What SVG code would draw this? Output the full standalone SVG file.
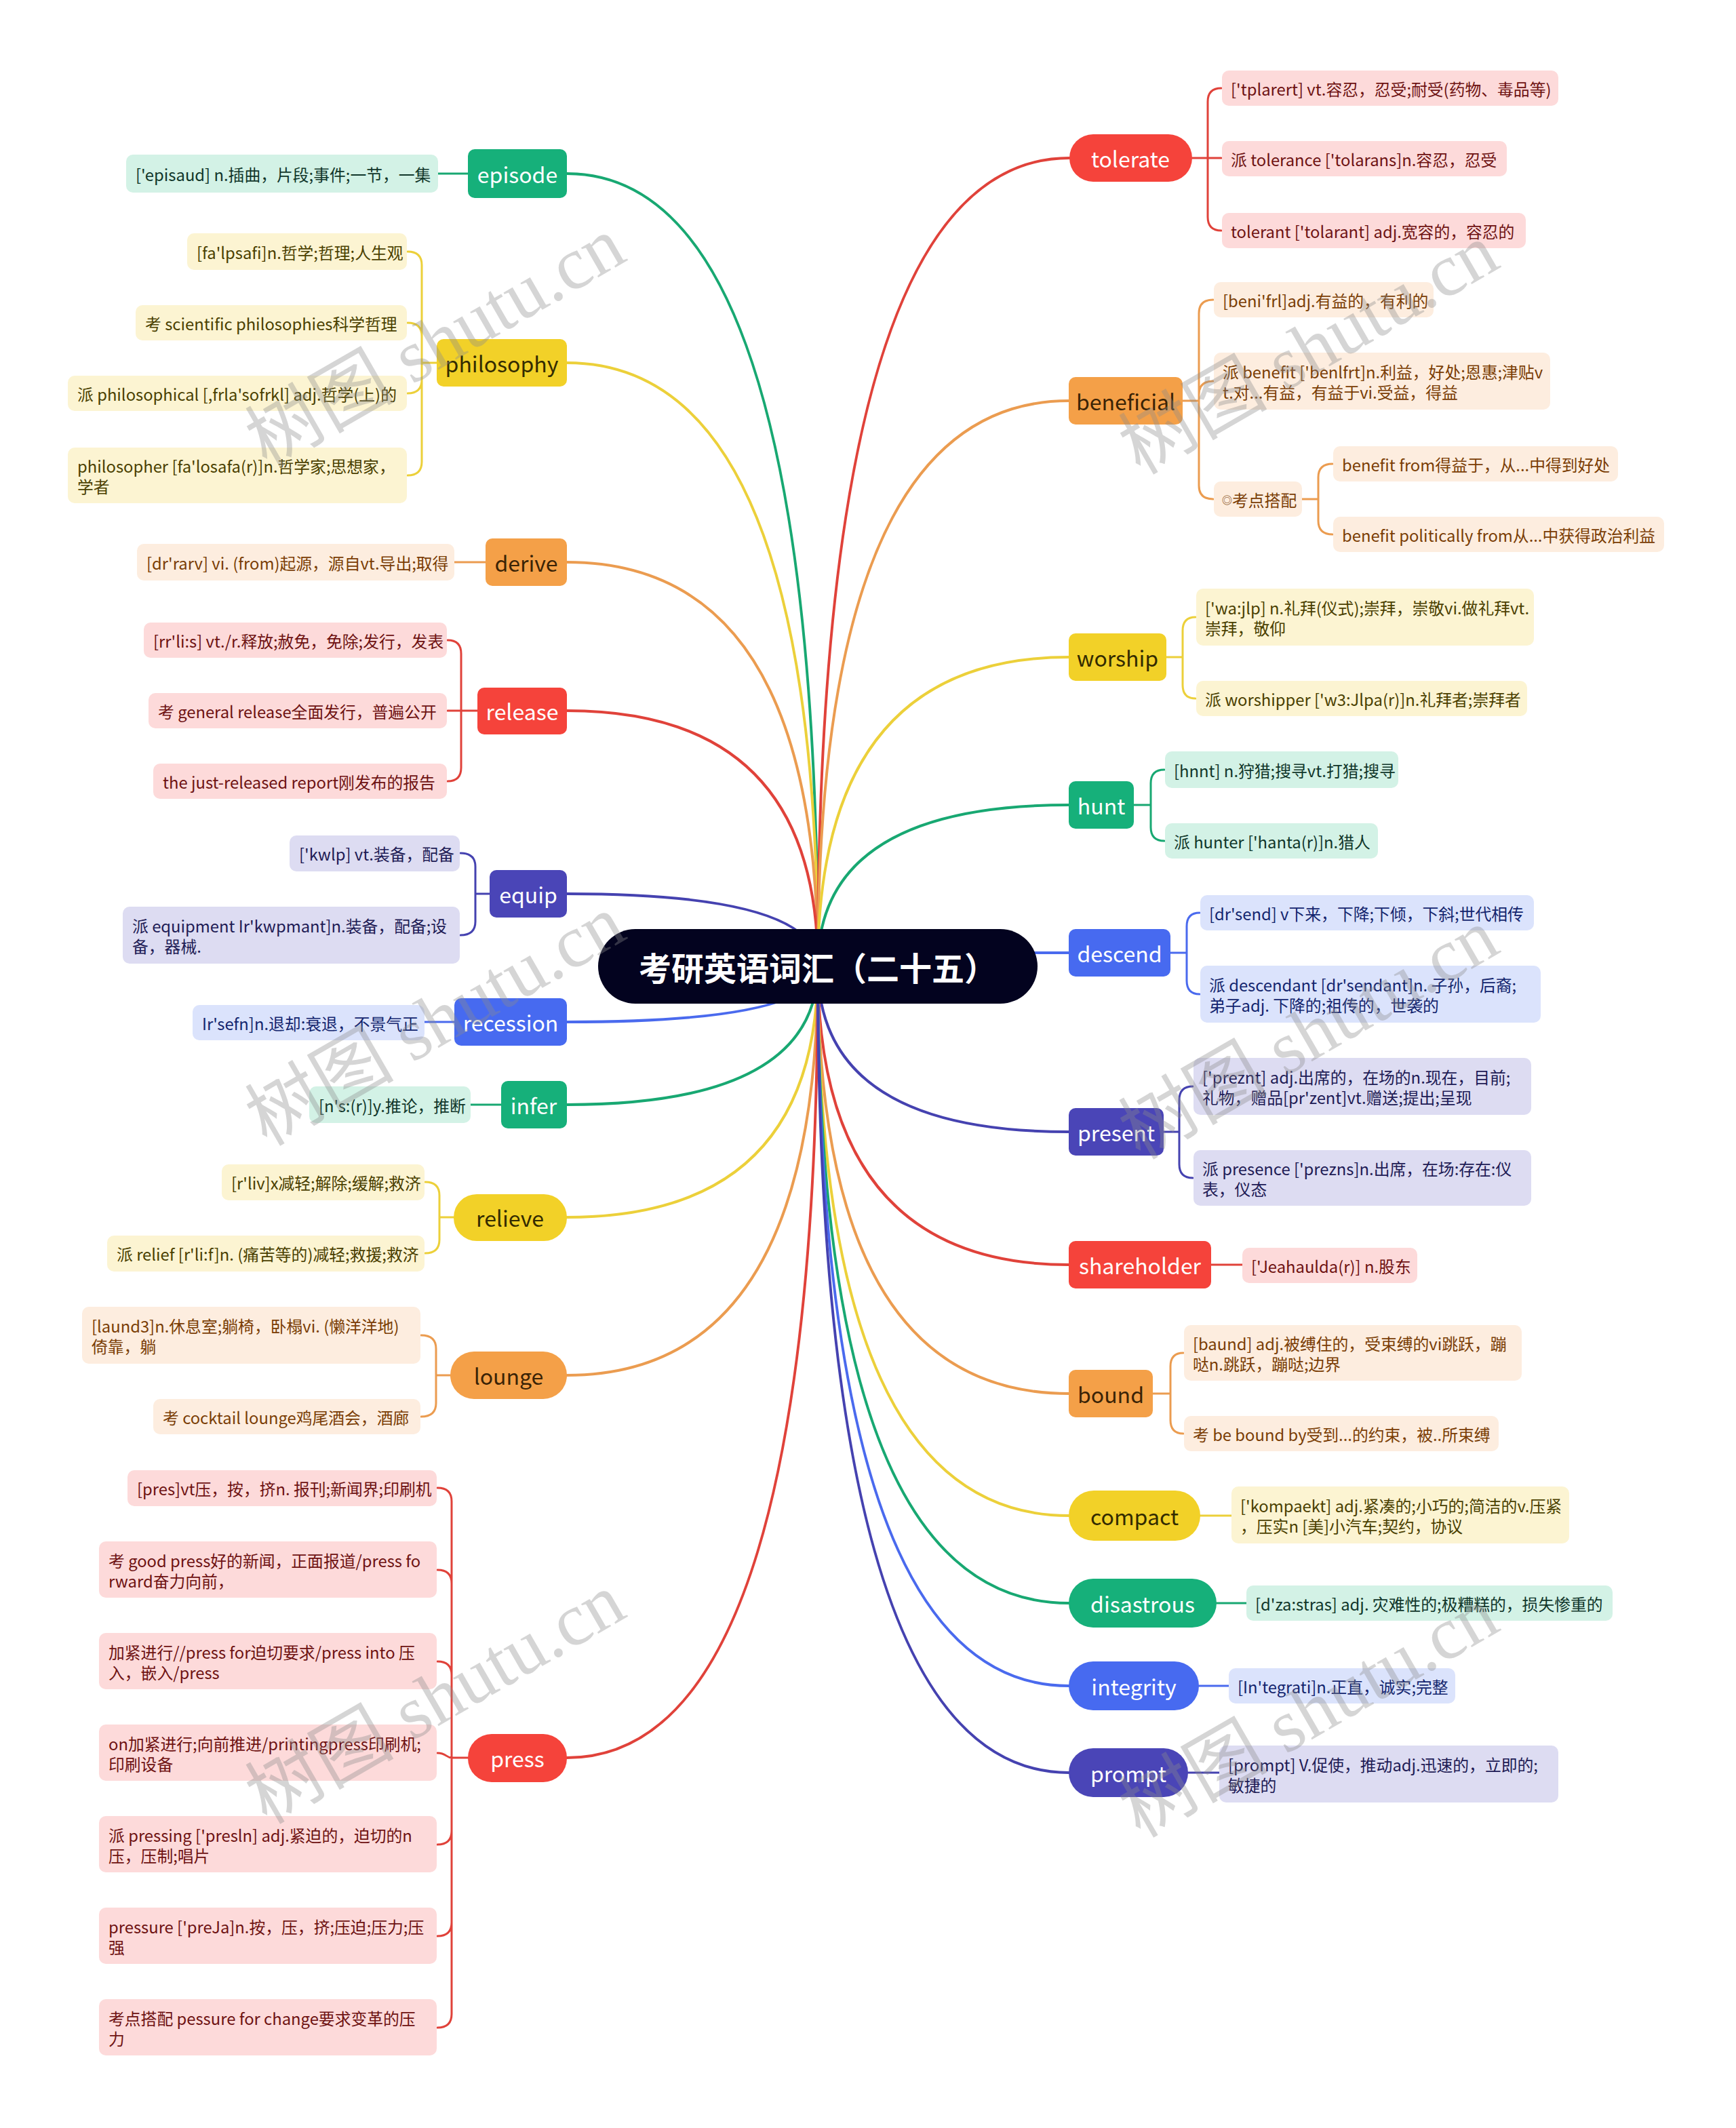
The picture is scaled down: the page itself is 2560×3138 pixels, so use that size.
<svg xmlns="http://www.w3.org/2000/svg" width="2560" height="3138" viewBox="0 0 2560 3138">
<style>
text{font-family:"Noto Sans CJK SC","Noto Sans",sans-serif;dominant-baseline:central}
.lt{font-size:23.8px}
.mt{font-size:32px;text-anchor:middle}
.wt{fill:#ffffff}
.c{fill:none;stroke-width:4;stroke-linecap:round}
.s{fill:none;stroke-width:3;stroke-linecap:round}
.Ngr{fill:#16b07a}.Lgr{fill:#d3f2e6}.Tgr{fill:#10362a}.Sgr{stroke:#18a872}
.Nye{fill:#f2d128}.Lye{fill:#fcf4d2}.Tye{fill:#4a4000}.Sye{stroke:#ecd03a}.Dye{fill:#332b00}
.Nor{fill:#f4a048}.Lor{fill:#fdeddf}.Tor{fill:#7a3d05}.Sor{stroke:#eb9c50}.Dor{fill:#3a2306}
.Nrd{fill:#f5433b}.Lrd{fill:#fddada}.Trd{fill:#6e1212}.Srd{stroke:#e0423a}
.Nin{fill:#4a45b7}.Lin{fill:#dddcf2}.Tin{fill:#1e1b55}.Sin{stroke:#4542b0}
.Nbl{fill:#476af0}.Lbl{fill:#dbe3fc}.Tbl{fill:#13256e}.Sbl{stroke:#4a6aee}
.wm{font-family:"Liberation Serif","Noto Sans CJK SC",serif;font-size:110px;fill:#8c8c8c;opacity:0.36;text-anchor:middle}
</style>
<rect width="2560" height="3138" fill="#ffffff"/>

<g id="connectors">
<path class="c Sgr" d="M836,256 Q1206,256 1206,1425"/>
<path class="c Sye" d="M836,535 Q1206,535 1206,1425"/>
<path class="c Sor" d="M836,829 Q1206,829 1206,1425"/>
<path class="c Srd" d="M836,1048 Q1206,1048 1206,1425"/>
<path class="c Sin" d="M836,1318 Q1206,1318 1206,1425"/>
<path class="c Sbl" d="M836,1507 Q1206,1507 1206,1425"/>
<path class="c Sgr" d="M836,1629 Q1206,1629 1206,1425"/>
<path class="c Sye" d="M836,1795 Q1206,1795 1206,1425"/>
<path class="c Sor" d="M836,2028 Q1206,2028 1206,1425"/>
<path class="c Srd" d="M836,2592 Q1206,2592 1206,1425"/>
<path class="c Srd" d="M1577,233 Q1206,233 1206,1425"/>
<path class="c Sor" d="M1576,591 Q1206,591 1206,1425"/>
<path class="c Sye" d="M1576,969 Q1206,969 1206,1425"/>
<path class="c Sgr" d="M1576,1187 Q1206,1187 1206,1425"/>
<path class="c Sbl" d="M1576,1405 Q1206,1405 1206,1425"/>
<path class="c Sin" d="M1576,1669 Q1206,1669 1206,1425"/>
<path class="c Srd" d="M1576,1865 Q1206,1865 1206,1425"/>
<path class="c Sor" d="M1576,2055 Q1206,2055 1206,1425"/>
<path class="c Sye" d="M1576,2235 Q1206,2235 1206,1425"/>
<path class="c Sgr" d="M1576,2364 Q1206,2364 1206,1425"/>
<path class="c Sbl" d="M1576,2486 Q1206,2486 1206,1425"/>
<path class="c Sin" d="M1576,2614 Q1206,2614 1206,1425"/>

<path class="s Sgr" d="M646,256 H690"/>
<path class="s Sye" d="M644,535 H622 M622,535 V391 Q622,371 601,371 M622,535 V496 Q622,476 601,476 M622,535 V560 Q622,580 601,580 M622,535 V681 Q622,701 601,701"/>
<path class="s Sor" d="M670,829 H716"/>
<path class="s Srd" d="M704,1048 H660 M680,1048 V964 Q680,944 660,944 M680,1048 V1132 Q680,1152 660,1152"/>
<path class="s Sin" d="M722,1318 H701 M701,1318 V1278 Q701,1258 679,1258 M701,1318 V1359 Q701,1379 679,1379"/>
<path class="s Sbl" d="M626,1507 H670"/>
<path class="s Sgr" d="M694,1629 H739"/>
<path class="s Sye" d="M669,1795 H648 M648,1795 V1763 Q648,1743 627,1743 M648,1795 V1828 Q648,1848 627,1848"/>
<path class="s Sor" d="M664,2028 H643 M643,2028 V1989 Q643,1969 621,1969 M643,2028 V2069 Q643,2089 621,2089"/>
<path class="s Srd" d="M690,2592 H666 M666,2592 V2214 Q666,2194 645,2194 M666,2592 V2335 Q666,2315 645,2315 M666,2592 V2470 Q666,2450 645,2450 M666,2592 C658,2592 658,2585 645,2585 M666,2592 V2700 Q666,2720 645,2720 M666,2592 V2835 Q666,2855 645,2855 M666,2592 V2970 Q666,2990 645,2990"/>
<path class="s Srd" d="M1758,233 H1801 M1781,233 V150 Q1781,130 1801,130 M1781,233 V320 Q1781,340 1801,340"/>
<path class="s Sor" d="M1744,591 H1768 M1768,591 V462 Q1768,442 1789,442 M1768,591 V582 Q1768,562 1789,562 M1768,591 V716 Q1768,736 1789,736"/>
<path class="s Sor" d="M1920,736 H1944 M1944,736 V704 Q1944,684 1965,684 M1944,736 V768 Q1944,788 1965,788"/>
<path class="s Sye" d="M1720,969 H1744 M1744,969 V930 Q1744,910 1763,910 M1744,969 V1010 Q1744,1030 1763,1030"/>
<path class="s Sgr" d="M1672,1187 H1697 M1697,1187 V1155 Q1697,1135 1717,1135 M1697,1187 V1220 Q1697,1240 1717,1240"/>
<path class="s Sbl" d="M1726,1405 H1750 M1750,1405 V1366 Q1750,1346 1769,1346 M1750,1405 V1446 Q1750,1466 1769,1466"/>
<path class="s Sin" d="M1716,1669 H1739 M1739,1669 V1622 Q1739,1602 1759,1602 M1739,1669 V1717 Q1739,1737 1759,1737"/>
<path class="s Srd" d="M1786,1865 H1832"/>
<path class="s Sor" d="M1700,2055 H1726 M1726,2055 V2015 Q1726,1995 1745,1995 M1726,2055 V2094 Q1726,2114 1745,2114"/>
<path class="s Sye" d="M1770,2235 H1816"/>
<path class="s Sgr" d="M1794,2364 H1838"/>
<path class="s Sbl" d="M1768,2486 H1812"/>
<path class="s Sin" d="M1752,2614 H1798"/>
</g>

<g id="episode">
<rect class="Ngr" x="690" y="220" width="146" height="72" rx="10"/>
<text class="mt wt" x="763" y="256">episode</text>
</g>
<g id="episode-1">
<rect class="Lgr" x="186" y="228" width="460" height="56" rx="10"/>
<text class="lt Tgr" x="200" y="256">['episaud] n.插曲，片段;事件;一节，一集</text>
</g>

<g id="philosophy">
<rect class="Nye" x="644" y="500" width="192" height="70" rx="10"/>
<text class="mt Dye" x="740" y="535">philosophy</text>
</g>
<g id="philosophy-1"><rect class="Lye" x="276" y="344" width="324" height="54" rx="10"/><text class="lt Tye" x="290" y="371">[fa'lpsafi]n.哲学;哲理;人生观</text></g>
<g id="philosophy-2"><rect class="Lye" x="200" y="450" width="400" height="52" rx="10"/><text class="lt Tye" x="214" y="476">考 scientific philosophies科学哲理</text></g>
<g id="philosophy-3"><rect class="Lye" x="100" y="554" width="500" height="52" rx="10"/><text class="lt Tye" x="114" y="580">派 philosophical [,frla'sofrkl] adj.哲学(上)的</text></g>
<g id="philosophy-4"><rect class="Lye" x="100" y="660" width="500" height="82" rx="10"/><text class="lt Tye" x="114" y="686">philosopher [fa'losafa(r)]n.哲学家;思想家，</text><text class="lt Tye" x="114" y="716">学者</text></g>

<g id="derive">
<rect class="Nor" x="716" y="794" width="120" height="70" rx="10"/>
<text class="mt Dor" x="776" y="829">derive</text>
</g>
<g id="derive-1"><rect class="Lor" x="202" y="802" width="468" height="54" rx="10"/><text class="lt Tor" x="216" y="829">[dr'rarv] vi. (from)起源，源自vt.导出;取得</text></g>

<g id="release">
<rect class="Nrd" x="704" y="1014" width="132" height="69" rx="10"/>
<text class="mt wt" x="770" y="1048">release</text>
</g>
<g id="release-1"><rect class="Lrd" x="212" y="918" width="447" height="52" rx="10"/><text class="lt Trd" x="226" y="944">[rr'li:s] vt./r.释放;赦免，免除;发行，发表</text></g>
<g id="release-2"><rect class="Lrd" x="219" y="1022" width="440" height="52" rx="10"/><text class="lt Trd" x="233" y="1048">考 general release全面发行，普遍公开</text></g>
<g id="release-3"><rect class="Lrd" x="226" y="1126" width="433" height="52" rx="10"/><text class="lt Trd" x="240" y="1152">the just-released report刚发布的报告</text></g>

<g id="equip">
<rect class="Nin" x="722" y="1283" width="114" height="70" rx="10"/>
<text class="mt wt" x="779" y="1318">equip</text>
</g>
<g id="equip-1"><rect class="Lin" x="427" y="1232" width="251" height="53" rx="10"/><text class="lt Tin" x="441" y="1258">['kwlp] vt.装备，配备</text></g>
<g id="equip-2"><rect class="Lin" x="181" y="1337" width="497" height="84" rx="10"/><text class="lt Tin" x="195" y="1364">派 equipment Ir'kwpmant]n.装备，配备;设</text><text class="lt Tin" x="195" y="1394">备，器械.</text></g>

<g id="recession">
<rect class="Nbl" x="670" y="1472" width="166" height="70" rx="10"/>
<text class="mt wt" x="753" y="1507">recession</text>
</g>
<g id="recession-1"><rect class="Lbl" x="284" y="1482" width="342" height="52" rx="10"/><text class="lt Tbl" x="298" y="1508">Ir'sefn]n.退却:衰退，不景气正</text></g>

<g id="infer">
<rect class="Ngr" x="739" y="1594" width="97" height="70" rx="10"/>
<text class="mt wt" x="787" y="1629">infer</text>
</g>
<g id="infer-1"><rect class="Lgr" x="456" y="1602" width="238" height="54" rx="10"/><text class="lt Tgr" x="470" y="1629">[n's:(r)]y.推论，推断</text></g>

<g id="relieve">
<rect class="Nye" x="669" y="1761" width="167" height="69" rx="34"/>
<text class="mt Dye" x="752" y="1795">relieve</text>
</g>
<g id="relieve-1"><rect class="Lye" x="327" y="1717" width="299" height="53" rx="10"/><text class="lt Tye" x="341" y="1743">[r'liv]x减轻;解除;缓解;救济</text></g>
<g id="relieve-2"><rect class="Lye" x="158" y="1822" width="468" height="53" rx="10"/><text class="lt Tye" x="172" y="1848">派 relief [r'li:f]n. (痛苦等的)减轻;救援;救济</text></g>

<g id="lounge">
<rect class="Nor" x="664" y="1993" width="172" height="70" rx="35"/>
<text class="mt Dor" x="750" y="2028">lounge</text>
</g>
<g id="lounge-1"><rect class="Lor" x="121" y="1927" width="499" height="84" rx="10"/><text class="lt Tor" x="135" y="1954">[laund3]n.休息室;躺椅，卧榻vi. (懒洋洋地)</text><text class="lt Tor" x="135" y="1984">倚靠，躺</text></g>
<g id="lounge-2"><rect class="Lor" x="226" y="2063" width="394" height="52" rx="10"/><text class="lt Tor" x="240" y="2089">考 cocktail lounge鸡尾酒会，酒廊</text></g>

<g id="press">
<rect class="Nrd" x="690" y="2557" width="146" height="71" rx="35"/>
<text class="mt wt" x="763" y="2592">press</text>
</g>
<g id="press-1"><rect class="Lrd" x="188" y="2168" width="456" height="53" rx="10"/><text class="lt Trd" x="202" y="2194">[pres]vt压，按，挤n. 报刊;新闻界;印刷机</text></g>
<g id="press-2"><rect class="Lrd" x="146" y="2273" width="498" height="83" rx="10"/><text class="lt Trd" x="160" y="2300">考 good press好的新闻，正面报道/press fo</text><text class="lt Trd" x="160" y="2330">rward奋力向前，</text></g>
<g id="press-3"><rect class="Lrd" x="146" y="2408" width="498" height="83" rx="10"/><text class="lt Trd" x="160" y="2435">加紧进行//press for迫切要求/press into 压</text><text class="lt Trd" x="160" y="2465">入，嵌入/press</text></g>
<g id="press-4"><rect class="Lrd" x="146" y="2543" width="498" height="83" rx="10"/><text class="lt Trd" x="160" y="2570">on加紧进行;向前推进/printingpress印刷机;</text><text class="lt Trd" x="160" y="2600">印刷设备</text></g>
<g id="press-5"><rect class="Lrd" x="146" y="2678" width="498" height="83" rx="10"/><text class="lt Trd" x="160" y="2705">派 pressing ['presln] adj.紧迫的，迫切的n</text><text class="lt Trd" x="160" y="2735">压，压制;唱片</text></g>
<g id="press-6"><rect class="Lrd" x="146" y="2813" width="498" height="83" rx="10"/><text class="lt Trd" x="160" y="2840">pressure ['preJa]n.按，压，挤;压迫;压力;压</text><text class="lt Trd" x="160" y="2870">强</text></g>
<g id="press-7"><rect class="Lrd" x="146" y="2948" width="498" height="83" rx="10"/><text class="lt Trd" x="160" y="2975">考点搭配 pessure for change要求变革的压</text><text class="lt Trd" x="160" y="3005">力</text></g>

<g id="tolerate">
<rect class="Nrd" x="1577" y="198" width="181" height="70" rx="35"/>
<text class="mt wt" x="1667" y="233">tolerate</text>
</g>
<g id="tolerate-1"><rect class="Lrd" x="1802" y="104" width="496" height="52" rx="10"/><text class="lt Trd" x="1815" y="130">['tplarert] vt.容忍，忍受;耐受(药物、毒品等)</text></g>
<g id="tolerate-2"><rect class="Lrd" x="1802" y="208" width="420" height="52" rx="10"/><text class="lt Trd" x="1815" y="234">派 tolerance ['tolarans]n.容忍，忍受</text></g>
<g id="tolerate-3"><rect class="Lrd" x="1802" y="314" width="448" height="52" rx="10"/><text class="lt Trd" x="1815" y="340">tolerant ['tolarant] adj.宽容的，容忍的</text></g>

<g id="beneficial">
<rect class="Nor" x="1576" y="556" width="168" height="70" rx="10"/>
<text class="mt Dor" x="1660" y="591">beneficial</text>
</g>
<g id="beneficial-1"><rect class="Lor" x="1790" y="416" width="324" height="52" rx="10"/><text class="lt Tor" x="1803" y="442">[beni'frl]adj.有益的，有利的</text></g>
<g id="beneficial-2"><rect class="Lor" x="1790" y="520" width="496" height="84" rx="10"/><text class="lt Tor" x="1803" y="547">派 benefit ['benlfrt]n.利益，好处;恩惠;津贴v</text><text class="lt Tor" x="1803" y="577">t.对...有益，有益于vi.受益，得益</text></g>
<g id="beneficial-3"><rect class="Lor" x="1790" y="710" width="130" height="52" rx="10"/><text class="lt Tor" x="1802" y="736"><tspan font-size="15">◎</tspan>考点搭配</text></g>
<g id="beneficial-3-1"><rect class="Lor" x="1966" y="658" width="420" height="52" rx="10"/><text class="lt Tor" x="1979" y="684">benefit from得益于，从...中得到好处</text></g>
<g id="beneficial-3-2"><rect class="Lor" x="1966" y="762" width="488" height="52" rx="10"/><text class="lt Tor" x="1979" y="788">benefit politically from从...中获得政治利益</text></g>

<g id="worship">
<rect class="Nye" x="1576" y="934" width="144" height="70" rx="10"/>
<text class="mt Dye" x="1648" y="969">worship</text>
</g>
<g id="worship-1"><rect class="Lye" x="1764" y="868" width="498" height="84" rx="10"/><text class="lt Tye" x="1777" y="895">['wa:jlp] n.礼拜(仪式);崇拜，崇敬vi.做礼拜vt.</text><text class="lt Tye" x="1777" y="925">崇拜，敬仰</text></g>
<g id="worship-2"><rect class="Lye" x="1764" y="1004" width="488" height="52" rx="10"/><text class="lt Tye" x="1777" y="1030">派 worshipper ['w3:Jlpa(r)]n.礼拜者;崇拜者</text></g>

<g id="hunt">
<rect class="Ngr" x="1576" y="1152" width="96" height="70" rx="10"/>
<text class="mt wt" x="1624" y="1187">hunt</text>
</g>
<g id="hunt-1"><rect class="Lgr" x="1718" y="1108" width="344" height="54" rx="10"/><text class="lt Tgr" x="1731" y="1135">[hnnt] n.狩猎;搜寻vt.打猎;搜寻</text></g>
<g id="hunt-2"><rect class="Lgr" x="1718" y="1214" width="314" height="52" rx="10"/><text class="lt Tgr" x="1731" y="1240">派 hunter ['hanta(r)]n.猎人</text></g>

<g id="descend">
<rect class="Nbl" x="1576" y="1370" width="150" height="70" rx="10"/>
<text class="mt wt" x="1651" y="1405">descend</text>
</g>
<g id="descend-1"><rect class="Lbl" x="1770" y="1320" width="492" height="52" rx="10"/><text class="lt Tbl" x="1783" y="1346">[dr'send] v下来，下降;下倾，下斜;世代相传</text></g>
<g id="descend-2"><rect class="Lbl" x="1770" y="1424" width="502" height="84" rx="10"/><text class="lt Tbl" x="1783" y="1451">派 descendant [dr'sendant]n. 子孙，后裔;</text><text class="lt Tbl" x="1783" y="1481">弟子adj. 下降的;祖传的，世袭的</text></g>

<g id="present">
<rect class="Nin" x="1576" y="1634" width="140" height="70" rx="10"/>
<text class="mt wt" x="1646" y="1669">present</text>
</g>
<g id="present-1"><rect class="Lin" x="1760" y="1560" width="498" height="84" rx="10"/><text class="lt Tin" x="1773" y="1587">['preznt] adj.出席的，在场的n.现在，目前;</text><text class="lt Tin" x="1773" y="1617">礼物，赠品[pr'zent]vt.赠送;提出;呈现</text></g>
<g id="present-2"><rect class="Lin" x="1760" y="1696" width="498" height="82" rx="10"/><text class="lt Tin" x="1773" y="1722">派 presence ['prezns]n.出席，在场:存在:仪</text><text class="lt Tin" x="1773" y="1752">表，仪态</text></g>

<g id="shareholder">
<rect class="Nrd" x="1576" y="1830" width="210" height="70" rx="10"/>
<text class="mt wt" x="1681" y="1865">shareholder</text>
</g>
<g id="shareholder-1"><rect class="Lrd" x="1832" y="1840" width="258" height="52" rx="10"/><text class="lt Trd" x="1845" y="1866">['Jeahaulda(r)] n.股东</text></g>

<g id="bound">
<rect class="Nor" x="1576" y="2020" width="124" height="70" rx="10"/>
<text class="mt Dor" x="1638" y="2055">bound</text>
</g>
<g id="bound-1"><rect class="Lor" x="1746" y="1954" width="498" height="82" rx="10"/><text class="lt Tor" x="1759" y="1980">[baund] adj.被缚住的，受束缚的vi跳跃，蹦</text><text class="lt Tor" x="1759" y="2010">哒n.跳跃，蹦哒;边界</text></g>
<g id="bound-2"><rect class="Lor" x="1746" y="2088" width="464" height="52" rx="10"/><text class="lt Tor" x="1759" y="2114">考 be bound by受到...的约束，被..所束缚</text></g>

<g id="compact">
<rect class="Nye" x="1576" y="2198" width="194" height="74" rx="37"/>
<text class="mt Dye" x="1673" y="2235">compact</text>
</g>
<g id="compact-1"><rect class="Lye" x="1816" y="2192" width="498" height="84" rx="10"/><text class="lt Tye" x="1829" y="2219">['kompaekt] adj.紧凑的;小巧的;简洁的v.压紧</text><text class="lt Tye" x="1829" y="2249">，压实n [美]小汽车;契约，协议</text></g>

<g id="disastrous">
<rect class="Ngr" x="1576" y="2328" width="218" height="72" rx="36"/>
<text class="mt wt" x="1685" y="2364">disastrous</text>
</g>
<g id="disastrous-1"><rect class="Lgr" x="1838" y="2338" width="540" height="52" rx="10"/><text class="lt Tgr" x="1851" y="2364">[d'za:stras] adj. 灾难性的;极糟糕的，损失惨重的</text></g>

<g id="integrity">
<rect class="Nbl" x="1576" y="2450" width="192" height="72" rx="36"/>
<text class="mt wt" x="1672" y="2486">integrity</text>
</g>
<g id="integrity-1"><rect class="Lbl" x="1812" y="2460" width="334" height="52" rx="10"/><text class="lt Tbl" x="1825" y="2486">[In'tegrati]n.正直，诚实;完整</text></g>

<g id="prompt">
<rect class="Nin" x="1576" y="2578" width="176" height="72" rx="36"/>
<text class="mt wt" x="1664" y="2614">prompt</text>
</g>
<g id="prompt-1"><rect class="Lin" x="1798" y="2574" width="500" height="84" rx="10"/><text class="lt Tin" x="1811" y="2601">[prompt] V.促使，推动adj.迅速的，立即的;</text><text class="lt Tin" x="1811" y="2631">敏捷的</text></g>

<g id="root">
<rect x="882" y="1370" width="648" height="110" rx="55" fill="#03031f"/>
<text x="1206" y="1425" text-anchor="middle" font-size="48" font-weight="bold" fill="#ffffff">考研英语词汇（二十五）</text>
</g>

<g id="watermark">
<text class="wm" transform="translate(642,505) rotate(-30)">树图 shutu.cn</text>
<text class="wm" transform="translate(1930,515) rotate(-30)">树图 shutu.cn</text>
<text class="wm" transform="translate(642,1505) rotate(-30)">树图 shutu.cn</text>
<text class="wm" transform="translate(1930,1525) rotate(-30)">树图 shutu.cn</text>
<text class="wm" transform="translate(642,2505) rotate(-30)">树图 shutu.cn</text>
<text class="wm" transform="translate(1930,2525) rotate(-30)">树图 shutu.cn</text>
</g>
</svg>
